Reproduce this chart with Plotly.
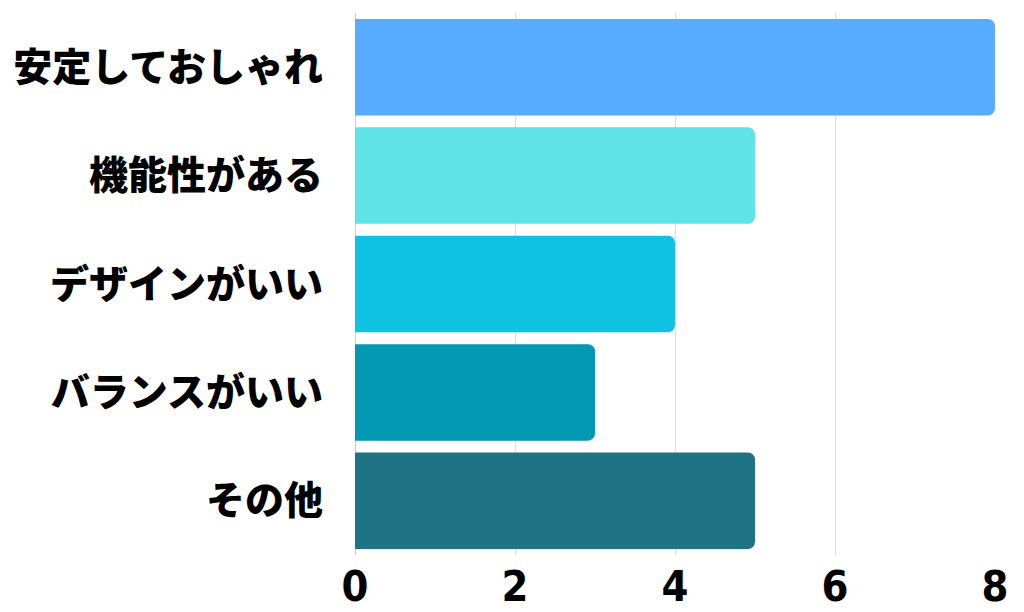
import plotly.graph_objects as go

# Data
categories = ['安定しておしゃれ', '機能性がある', 'デザインがいい', 'バランスがいい', 'その他']
counts = [8, 5, 4, 3, 5]
bar_colors = ['#58ACFF', '#5FE3E8', '#10C2E1', '#0298B3', '#1F7484']
x_ticks = [0, 2, 4, 6, 8]

fig = go.Figure(go.Bar(
    y=categories,
    x=counts,
    orientation='h',
    marker=dict(color=bar_colors, line=dict(width=0), cornerradius=7),
    hoverinfo='x+y',
))

# the page body shifts the figure by 8px, margins compensate for it
fig.update_layout(
    width=1024,
    height=612,
    margin=dict(l=347, r=37, t=5, b=65),
    paper_bgcolor='white',
    plot_bgcolor='white',
    bargap=0.11,
    showlegend=False,
)

fig.update_xaxes(
    range=[0, 8],
    tickvals=x_ticks,
    automargin=False,
    showgrid=True,
    gridcolor='#DDDDDD',
    gridwidth=1,
    zeroline=True,
    zerolinecolor='#CCCCCC',
    zerolinewidth=1,
    tickfont=dict(family='DejaVu Sans Condensed', size=43, color='black', weight='bold'),
    ticks='',
    ticklabelstandoff=2,
)

fig.update_yaxes(
    categoryorder='array',
    categoryarray=categories[::-1],
    automargin=False,
    showgrid=False,
    tickfont=dict(family='Noto Sans CJK JP', size=39, color='black', weight=900),
    ticks='',
    ticklabelstandoff=31,
)

fig.write_html('out.html')
